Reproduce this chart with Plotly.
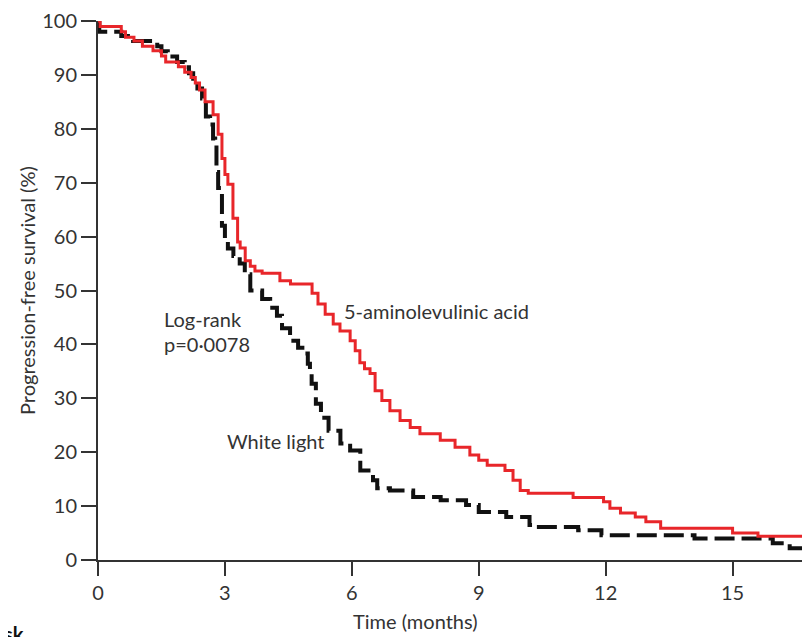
import plotly.graph_objects as go

# 5-aminolevulinic acid arm (red)
ala_t = [0, 0.05, 0.55, 0.65, 0.85, 1.05, 1.3, 1.5, 1.6, 1.9, 2.05, 2.2, 2.3, 2.4, 2.53, 2.72,
         2.84, 2.93, 3.0, 3.07, 3.19, 3.3, 3.36, 3.48, 3.6, 3.71, 3.88, 4.3, 4.55, 5.06, 5.2,
         5.37, 5.56, 5.72, 5.96, 6.08, 6.19, 6.3, 6.43, 6.55, 6.71, 6.9, 7.14, 7.38, 7.61,
         8.09, 8.44, 8.79, 9.0, 9.2, 9.62, 9.81, 9.98, 10.17, 11.23, 11.95, 12.1, 12.35, 12.7,
         12.95, 13.3, 15.0, 15.6, 16.75]
ala_s = [100, 99, 98, 97, 96.3, 95.3, 94.5, 93.5, 92.4, 91.5, 90.5, 89.5, 88.5, 87.2, 85, 82.6,
         79, 74.5, 71.5, 69.7, 63.4, 59, 57.9, 55.5, 54.5, 53.6, 53.2, 51.8, 51.2, 49.5, 47.5,
         45.6, 43.8, 42.5, 40.7, 38.8, 36.6, 35.5, 34.6, 31.4, 29.6, 27.7, 25.9, 24.6, 23.4,
         22.2, 20.9, 19.5, 18.5, 17.6, 16.6, 14.8, 12.9, 12.4, 11.6, 10.8, 9.6, 8.7, 8.0,
         7.1, 5.9, 5.0, 4.4, 4.4]

# White light arm (black dashed)
wl_t = [0, 0.03, 0.55, 0.83, 1.4, 1.5, 1.65, 1.87, 2.05, 2.15, 2.25, 2.35, 2.46, 2.55, 2.65,
        2.72, 2.77, 2.8, 2.84, 2.93, 3.0, 3.07, 3.2, 3.35, 3.47, 3.6, 3.88, 4.07, 4.23, 4.35,
        4.54, 4.73, 4.89, 4.96, 5.01, 5.05, 5.15, 5.27, 5.45, 5.73, 5.96, 6.2, 6.5, 6.6, 6.9,
        7.45, 8.1, 8.7, 9.0, 9.65, 10.2, 10.3, 11.35, 11.9, 14.1, 15.95, 16.35, 16.75]
wl_s = [100, 98, 97.2, 96.3, 95.3, 94.4, 93.4, 92.4, 91.4, 90.3, 89.3, 87.5, 85.6, 82.3, 80.8,
        78.2, 77, 72, 69, 62, 59.5, 57.8, 56.4, 55, 53, 50, 48.4, 46.8, 45.3, 43,
        40.7, 39.4, 38.3, 36.4, 34.6, 32.7, 29, 26.4, 24, 21.6, 20.3, 16.6, 14.8, 13.3, 12.9,
        11.7, 11.1, 10.2, 8.9, 8.0, 6.5, 6.1, 5.5, 4.6, 4.0, 3.1, 2.2, 2.2]

x_ticks = [0, 3, 6, 9, 12, 15]
y_ticks = [0, 10, 20, 30, 40, 50, 60, 70, 80, 90, 100]

FONT = "Lato"
TXT = "#333333"
FS = 20

fig = go.Figure()
fig.add_trace(go.Scatter(x=wl_t, y=wl_s, mode="lines", line_shape="hv", cliponaxis=False,
                         line=dict(color="#111111", width=4, dash="20px,7px"),
                         name="White light", showlegend=False))
fig.add_trace(go.Scatter(x=ala_t, y=ala_s, mode="lines", line_shape="hv", cliponaxis=False,
                         line=dict(color="#e8262a", width=3),
                         name="5-aminolevulinic acid", showlegend=False))

# page has an 8px body margin; the plot area spans page x 98..810, y 19..560
fig.update_layout(
    width=802, height=629,
    margin=dict(l=90, r=0, t=11, b=77),
    paper_bgcolor="white", plot_bgcolor="white",
    font=dict(family=FONT, size=FS, color=TXT),
    xaxis=dict(range=[0, 16.83], tickvals=x_ticks, ticks="outside", ticklen=14, tickwidth=2,
               tickcolor="#333333", showline=True, linecolor="#333333", linewidth=2,
               showgrid=False, zeroline=False, tickfont=dict(size=FS, color=TXT),
               ticklabeloverflow="allow"),
    yaxis=dict(range=[0, 100], tickvals=y_ticks, ticks="outside", ticklen=15, tickwidth=2,
               tickcolor="#333333", showline=True, linecolor="#333333", linewidth=2,
               showgrid=False, zeroline=False, tickfont=dict(size=FS, color=TXT),
               ticklabeloverflow="allow"),
)

anns = [
    dict(text="Log-rank", x=1.51, y=44.7, xanchor="left", yanchor="middle"),
    dict(text="p=0·0078", x=1.51, y=40.1, xanchor="left", yanchor="middle"),
    dict(text="White light", x=3.0, y=22.0, xanchor="left", yanchor="middle"),
    dict(text="5-aminolevulinic acid", x=5.77, y=46.2, xanchor="left", yanchor="middle"),
]
for a in anns:
    fig.add_annotation(xref="x", yref="y", showarrow=False, font=dict(size=FS, color=TXT), **a)

fig.add_annotation(text="Time (months)", xref="paper", yref="paper", x=(415 - 98) / 712,
                   y=(560 - 621) / 541, xanchor="center", yanchor="middle", showarrow=False,
                   font=dict(size=FS, color=TXT))
fig.add_annotation(text="Progression-free survival (%)", xref="paper", yref="paper",
                   x=(27 - 98) / 712, y=(560 - 290) / 541, xanchor="center", yanchor="middle",
                   textangle=-90, showarrow=False, font=dict(size=FS, color=TXT))
fig.add_annotation(text="<b>Number at risk</b>", xref="paper", yref="paper",
                   x=(26 - 98) / 712, y=(560 - 620) / 541, xanchor="right", yanchor="top",
                   showarrow=False, font=dict(size=FS, color="#111111"))

fig.write_html("out.html")
